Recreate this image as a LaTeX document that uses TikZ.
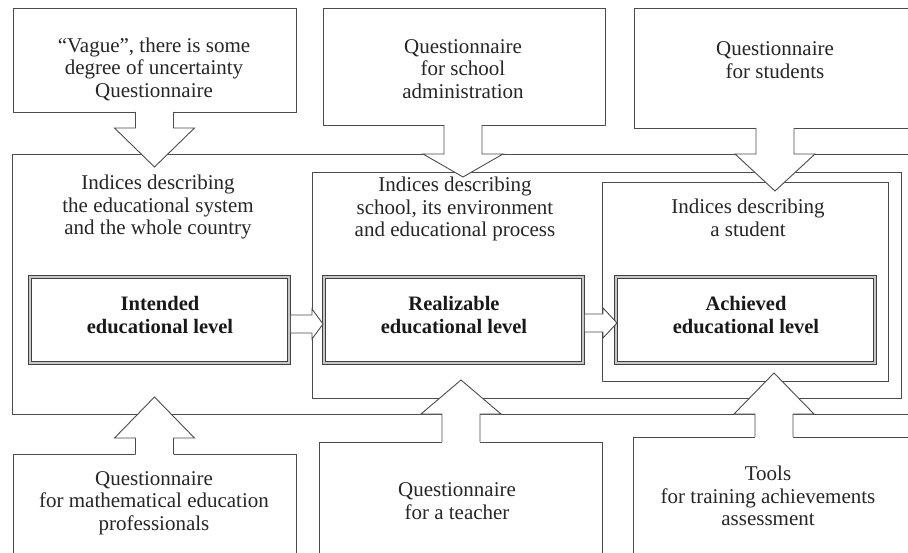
\documentclass[tikz,border=0pt]{standalone}
\usepackage{fontspec}
\setmainfont{Liberation Serif}
\usetikzlibrary{calc}

\tikzset{
  qbox/.style={draw=black!70, line width=0.9pt, fill=white, inner sep=0pt, outer sep=0pt},
  areabox/.style={draw=black!70, line width=0.9pt, inner sep=0pt, outer sep=0pt},
  levelbox/.style={draw=black!75, line width=0.9pt, double=black!22, double distance=2.2pt,
    fill=white, inner sep=0pt, outer sep=0pt, minimum width=259, minimum height=86},
  txt/.style={align=center, text=black!85, font=\fontsize{21}{22.5}\selectfont, inner sep=0pt},
  lvltxt/.style={align=center, text=black!90, font=\fontsize{20.5}{23}\selectfont\bfseries, inner sep=0pt},
  arrline/.style={draw=black!70, line width=0.9pt, line join=miter},
}

% vertical block arrow: source anchor, tip, head length
\newcommand{\blockv}[3]{%
  \fill[white] let \p1=(#1), \p2=(#2), \n1={sign(\y1-\y2)} in
    (\x2-19pt,\y1+\n1*1.2) -- (\x2-19pt,\y2+\n1*#3) -- (\x2-40pt,\y2+\n1*#3) -- (\x2,\y2)
    -- (\x2+40pt,\y2+\n1*#3) -- (\x2+19pt,\y2+\n1*#3) -- (\x2+19pt,\y1+\n1*1.2) -- cycle;
  \draw[arrline] let \p1=(#1), \p2=(#2), \n1={sign(\y1-\y2)} in
    (\x2-19pt,\y1) -- (\x2-19pt,\y2+\n1*#3) -- (\x2-40pt,\y2+\n1*#3) -- (\x2,\y2)
    -- (\x2+40pt,\y2+\n1*#3) -- (\x2+19pt,\y2+\n1*#3) -- (\x2+19pt,\y1);}

% horizontal block arrow: source anchor, tip, head length
\newcommand{\blockh}[3]{%
  \fill[white] let \p1=(#1), \p2=(#2), \n1={sign(\x1-\x2)} in
    (\x1-\n1*1.9,\y2-9pt) -- (\x2+\n1*#3,\y2-9pt) -- (\x2+\n1*#3,\y2-15pt) -- (\x2,\y2)
    -- (\x2+\n1*#3,\y2+15pt) -- (\x2+\n1*#3,\y2+9pt) -- (\x1-\n1*1.9,\y2+9pt) -- cycle;
  \draw[arrline] let \p1=(#1), \p2=(#2), \n1={sign(\x1-\x2)} in
    (\x1-\n1*1.9,\y2-9pt) -- (\x2+\n1*#3,\y2-9pt) -- (\x2+\n1*#3,\y2-15pt) -- (\x2,\y2)
    -- (\x2+\n1*#3,\y2+15pt) -- (\x2+\n1*#3,\y2+9pt) -- (\x1-\n1*1.9,\y2+9pt);}

\begin{document}
\begin{tikzpicture}[x=1pt, y=-1pt]
  \clip (0,0) rectangle (908,553);
  \fill[white] (0,0) rectangle (908,553);

  \node[areabox, minimum width=928, minimum height=260] (sys) at (476,284) {};
  \node[areabox, minimum width=589, minimum height=226] (sch) at (606.5,285) {};
  \node[areabox, minimum width=286, minimum height=199] (stu) at (745,281.5) {};

  \node[qbox, minimum width=283, minimum height=104] (q1) at (154.5,60) {};
  \node[qbox, minimum width=282, minimum height=117] (q2) at (464,66.5) {};
  \node[qbox, minimum width=326, minimum height=120] (q3) at (797,68) {};
  \node[qbox, minimum width=283, minimum height=146] (b1) at (154.5,527) {};
  \node[qbox, minimum width=283, minimum height=158] (b2) at (460.5,521) {};
  \node[qbox, minimum width=327, minimum height=163] (b3) at (796.5,518.5) {};

  \node[levelbox] (int) at (159.5,320) {};
  \node[levelbox] (rea) at (453.5,320) {};
  \node[levelbox] (ach) at (745.5,320) {};

  \coordinate (t1) at (154.5,167);
  \coordinate (t2) at (463,177);
  \coordinate (t3) at (775,191);
  \coordinate (t4) at (154.5,397);
  \coordinate (t5) at (461,380);
  \coordinate (t6) at (774,373);
  \coordinate (t7) at (323,324);
  \coordinate (t8) at (617,323);

  \blockv{q1.south}{t1}{39}
  \blockv{q2.south}{t2}{23}
  \blockv{q3.south}{t3}{37}
  \blockv{b1.north}{t4}{41}
  \blockv{b2.north}{t5}{34}
  \blockv{b3.north}{t6}{41}
  \blockh{int.east}{t7}{11}
  \blockh{rea.east}{t8}{14}

  \node[txt] (q1t) at (154,69) {“Vague”, there is some\\degree of uncertainty\\Questionnaire};
  \node[txt] (q2t) at (463,69) {Questionnaire\\for school\\administration};
  \node[txt] (q3t) at (775,60) {Questionnaire\\for students};
  \node[txt] (syst) at (158,207) {Indices describing\\the educational system\\and the whole country};
  \node[txt] (scht) at (455,209) {Indices describing\\school, its environment\\and educational process};
  \node[txt] (stut) at (748,218) {Indices describing\\a student};
  \node[lvltxt] (intt) at (160,315) {Intended\\educational level};
  \node[lvltxt] (reat) at (454,315) {Realizable\\educational level};
  \node[lvltxt] (acht) at (746,315) {Achieved\\educational level};
  \node[txt] (b1t) at (154,503) {Questionnaire\\for mathematical education\\professionals};
  \node[txt] (b2t) at (457,501) {Questionnaire\\for a teacher};
  \node[txt] (b3t) at (768,496) {Tools\\for training achievements\\assessment};
\end{tikzpicture}
\end{document}
